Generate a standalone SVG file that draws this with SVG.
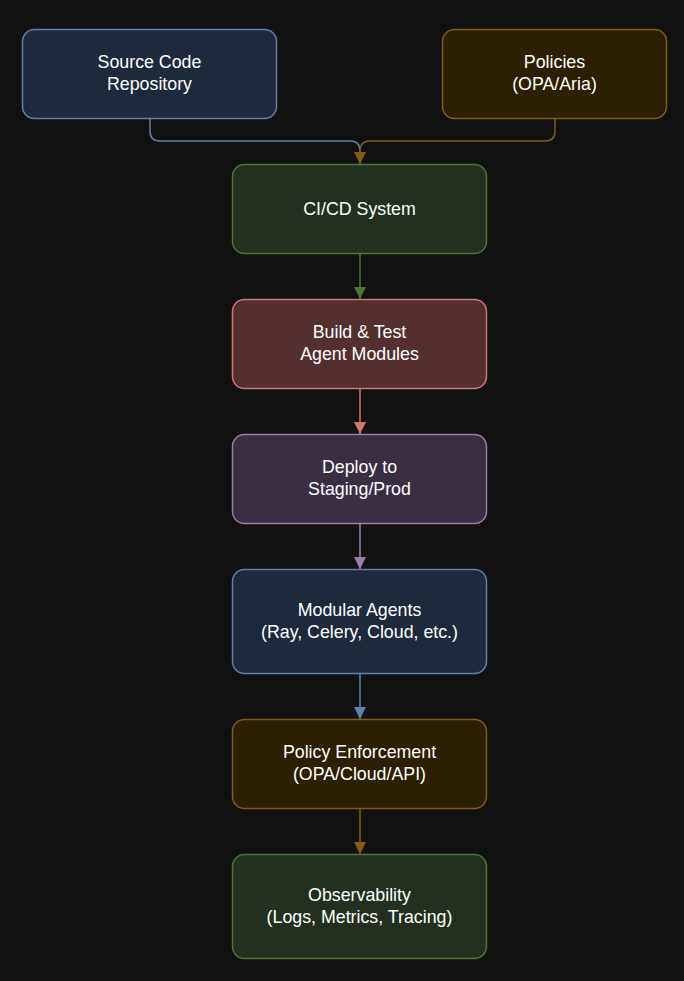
<svg xmlns="http://www.w3.org/2000/svg" width="684" height="981" viewBox="0 0 684 981">
<style>
text{font-family:"Liberation Sans",Arial,sans-serif;font-size:17.8px;fill:#ffffff;text-anchor:middle}
.blue{fill:#1e293b;stroke:#6080ae}
.gold{fill:#2b2000;stroke:#7f5f10}
.green{fill:#23301f;stroke:#507434}
.red{fill:#53302f;stroke:#d0796f}
.purple{fill:#3a2f42;stroke:#9a7fa9}
rect{stroke-width:1.5}
.c{fill:none;stroke-width:1.5}
</style>
<defs>
<marker id="aGold" viewBox="0 0 12 12" refX="12" refY="6" markerWidth="12" markerHeight="12" markerUnits="userSpaceOnUse" orient="auto"><path d="M0,0L12,6L0,12z" fill="#7f5f10"/></marker>
<marker id="aGreen" viewBox="0 0 12 12" refX="12" refY="6" markerWidth="12" markerHeight="12" markerUnits="userSpaceOnUse" orient="auto"><path d="M0,0L12,6L0,12z" fill="#507434"/></marker>
<marker id="aRed" viewBox="0 0 12 12" refX="12" refY="6" markerWidth="12" markerHeight="12" markerUnits="userSpaceOnUse" orient="auto"><path d="M0,0L12,6L0,12z" fill="#d0796f"/></marker>
<marker id="aPurple" viewBox="0 0 12 12" refX="12" refY="6" markerWidth="12" markerHeight="12" markerUnits="userSpaceOnUse" orient="auto"><path d="M0,0L12,6L0,12z" fill="#9a7fa9"/></marker>
<marker id="aBlue" viewBox="0 0 12 12" refX="12" refY="6" markerWidth="12" markerHeight="12" markerUnits="userSpaceOnUse" orient="auto"><path d="M0,0L12,6L0,12z" fill="#6080ae"/></marker>
</defs>
<rect width="684" height="981" fill="#111111" stroke="none"/>
<g id="connectors">
<path class="c" stroke="#6080ae" d="M150,118V131Q150,141 160,141H350Q360,141 360,151V164"/>
<path class="c" stroke="#7f5f10" d="M555,118V131Q555,141 545,141H370Q360,141 360,151V164" marker-end="url(#aGold)"/>
<path class="c" stroke="#507434" d="M360,253V299" marker-end="url(#aGreen)"/>
<path class="c" stroke="#d0796f" d="M360,388V434" marker-end="url(#aRed)"/>
<path class="c" stroke="#9a7fa9" d="M360,523V569" marker-end="url(#aPurple)"/>
<path class="c" stroke="#6080ae" d="M360,673V719" marker-end="url(#aBlue)"/>
<path class="c" stroke="#7f5f10" d="M360,808V854" marker-end="url(#aGold)"/>
</g>
<g id="source"><rect class="blue" x="22.5" y="29.5" width="254" height="89" rx="12"/><text x="149.5" y="68">Source Code</text><text x="149.5" y="90">Repository</text></g>
<g id="policies"><rect class="gold" x="442.5" y="29.5" width="224" height="89" rx="12"/><text x="554.5" y="68">Policies</text><text x="554.5" y="90">(OPA/Aria)</text></g>
<g id="cicd"><rect class="green" x="232.5" y="164.5" width="254" height="89" rx="12"/><text x="359.5" y="215">CI/CD System</text></g>
<g id="build"><rect class="red" x="232.5" y="299.5" width="254" height="89" rx="12"/><text x="359.5" y="338">Build &amp; Test</text><text x="359.5" y="360">Agent Modules</text></g>
<g id="deploy"><rect class="purple" x="232.5" y="434.5" width="254" height="89" rx="12"/><text x="359.5" y="473">Deploy to</text><text x="359.5" y="495">Staging/Prod</text></g>
<g id="agents"><rect class="blue" x="232.5" y="569.5" width="254" height="104" rx="12"/><text x="359.5" y="616">Modular Agents</text><text x="359.5" y="638">(Ray, Celery, Cloud, etc.)</text></g>
<g id="enforcement"><rect class="gold" x="232.5" y="719.5" width="254" height="89" rx="12"/><text x="359.5" y="758">Policy Enforcement</text><text x="359.5" y="780">(OPA/Cloud/API)</text></g>
<g id="observability"><rect class="green" x="232.5" y="854.5" width="254" height="104" rx="12"/><text x="359.5" y="901">Observability</text><text x="359.5" y="923">(Logs, Metrics, Tracing)</text></g>
</svg>
